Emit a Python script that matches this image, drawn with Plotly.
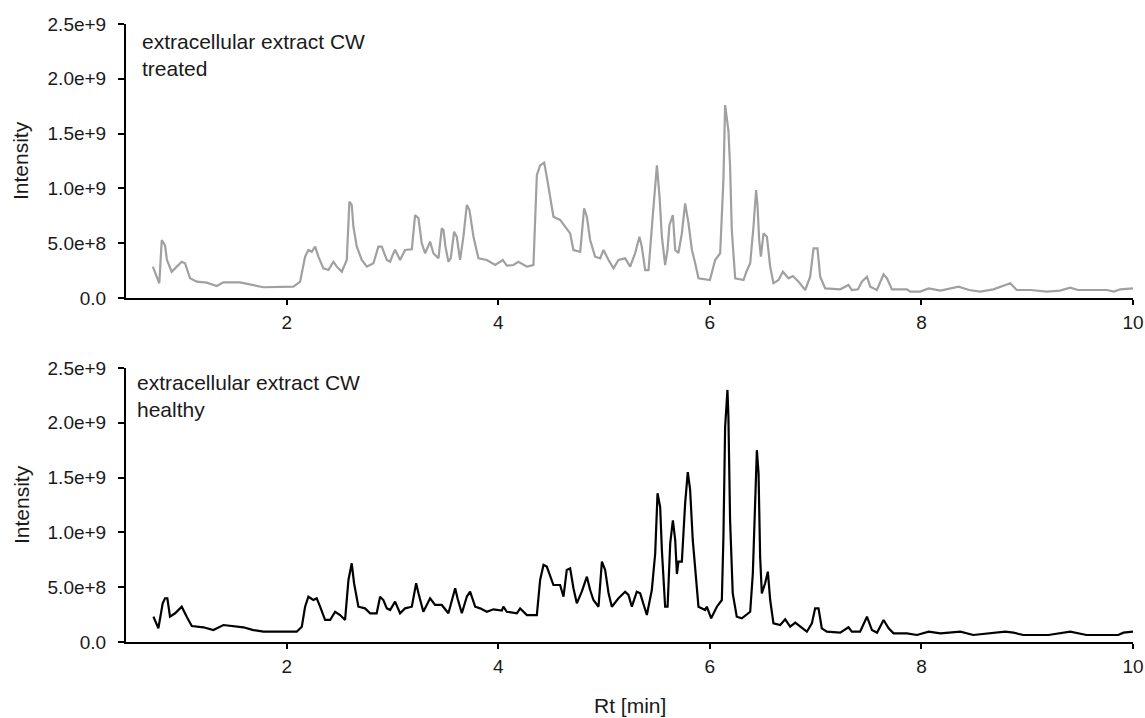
import numpy as np
import plotly.graph_objects as go

# Retention times [min] and intensities (units of 1e8 counts) for each chromatogram
rt_treated = [
    0.734, 0.795, 0.818, 0.849, 0.867, 0.912, 0.960, 1.007, 1.038, 1.086, 1.149, 1.244,
    1.338, 1.401, 1.558, 1.684, 1.779, 2.063, 2.126, 2.173, 2.204, 2.236, 2.268, 2.299,
    2.346, 2.394, 2.441, 2.473, 2.520, 2.567, 2.583, 2.592, 2.614, 2.630, 2.662, 2.709,
    2.757, 2.819, 2.866, 2.898, 2.946, 2.977, 3.000, 3.024, 3.071, 3.118, 3.182, 3.213,
    3.245, 3.276, 3.308, 3.355, 3.386, 3.434, 3.465, 3.481, 3.500, 3.528, 3.550, 3.582,
    3.607, 3.638, 3.670, 3.702, 3.727, 3.765, 3.812, 3.891, 3.970, 4.042, 4.080, 4.143,
    4.190, 4.270, 4.332, 4.364, 4.395, 4.433, 4.458, 4.490, 4.521, 4.584, 4.632, 4.679,
    4.710, 4.774, 4.811, 4.837, 4.868, 4.915, 4.963, 4.994, 5.042, 5.089, 5.136, 5.199,
    5.246, 5.293, 5.334, 5.356, 5.388, 5.420, 5.467, 5.499, 5.524, 5.546, 5.577, 5.599,
    5.618, 5.650, 5.672, 5.703, 5.735, 5.766, 5.798, 5.830, 5.861, 5.892, 6.000, 6.050,
    6.097, 6.128, 6.144, 6.175, 6.191, 6.207, 6.239, 6.318, 6.345, 6.381, 6.412, 6.437,
    6.450, 6.466, 6.482, 6.507, 6.539, 6.570, 6.601, 6.649, 6.690, 6.744, 6.785, 6.838,
    6.901, 6.948, 6.980, 7.017, 7.043, 7.090, 7.232, 7.310, 7.342, 7.400, 7.437, 7.485,
    7.516, 7.579, 7.642, 7.674, 7.721, 7.863, 7.894, 7.989, 8.068, 8.180, 8.351, 8.450,
    8.557, 8.680, 8.840, 8.900, 9.030, 9.187, 9.310, 9.407, 9.480, 9.754, 9.820, 9.880,
    10.0,
]
int_treated = [
    2.86, 1.34, 5.29, 4.80, 3.47, 2.40, 2.86, 3.31, 3.17, 1.80, 1.49, 1.40,
    1.09, 1.43, 1.43, 1.19, 0.98, 1.03, 1.49, 3.77, 4.38, 4.22, 4.68, 3.77,
    2.70, 2.55, 3.31, 2.86, 2.40, 3.47, 6.50, 8.79, 8.50, 6.50, 4.68, 3.47,
    2.86, 3.17, 4.68, 4.68, 3.47, 3.31, 3.90, 4.40, 3.47, 4.38, 4.44, 7.57,
    7.27, 4.99, 4.08, 5.14, 4.08, 3.62, 6.36, 6.20, 4.70, 3.31, 3.62, 6.05,
    5.59, 3.47, 5.59, 8.49, 8.03, 5.59, 3.62, 3.47, 3.01, 3.47, 2.95, 3.01,
    3.31, 2.86, 3.01, 11.20, 12.10, 12.35, 11.07, 9.24, 7.42, 7.12, 6.50, 5.90,
    4.38, 4.22, 8.18, 7.42, 5.29, 3.77, 3.62, 4.38, 3.47, 2.71, 3.47, 3.62,
    2.86, 4.08, 5.59, 4.70, 2.55, 2.55, 8.33, 12.10, 9.24, 5.59, 3.01, 4.38,
    6.66, 7.57, 4.38, 4.10, 5.90, 8.64, 6.81, 4.38, 3.17, 1.80, 1.64, 3.47,
    4.08, 10.80, 17.60, 15.30, 12.00, 6.20, 1.80, 1.64, 2.40, 3.17, 6.50, 9.85,
    8.50, 5.29, 3.77, 5.90, 5.59, 2.86, 1.34, 1.64, 2.40, 1.80, 2.00, 1.49,
    0.73, 1.94, 4.53, 4.53, 1.94, 0.88, 0.79, 1.19, 0.73, 0.79, 1.49, 1.94,
    1.03, 0.73, 2.16, 1.80, 0.79, 0.79, 0.58, 0.58, 0.88, 0.67, 1.03, 0.73,
    0.58, 0.79, 1.34, 0.73, 0.73, 0.58, 0.67, 0.94, 0.73, 0.73, 0.58, 0.79,
    0.88,
]

rt_healthy = [
    0.739, 0.786, 0.827, 0.849, 0.871, 0.896, 0.944, 1.007, 1.054, 1.102, 1.212, 1.306,
    1.401, 1.495, 1.590, 1.684, 1.779, 2.094, 2.142, 2.173, 2.204, 2.252, 2.283, 2.315,
    2.362, 2.410, 2.457, 2.504, 2.551, 2.583, 2.614, 2.636, 2.677, 2.740, 2.788, 2.850,
    2.882, 2.913, 2.946, 2.977, 3.024, 3.071, 3.118, 3.182, 3.223, 3.245, 3.291, 3.355,
    3.402, 3.465, 3.528, 3.592, 3.614, 3.655, 3.702, 3.733, 3.781, 3.828, 3.891, 3.954,
    4.033, 4.048, 4.080, 4.175, 4.206, 4.270, 4.364, 4.395, 4.427, 4.458, 4.521, 4.584,
    4.616, 4.647, 4.679, 4.710, 4.742, 4.789, 4.837, 4.868, 4.899, 4.947, 4.979, 5.010,
    5.042, 5.073, 5.136, 5.199, 5.230, 5.262, 5.309, 5.341, 5.372, 5.404, 5.451, 5.483,
    5.505, 5.530, 5.546, 5.577, 5.600, 5.625, 5.650, 5.672, 5.688, 5.703, 5.735, 5.766,
    5.791, 5.813, 5.838, 5.869, 5.892, 5.955, 5.971, 6.012, 6.066, 6.113, 6.128, 6.144,
    6.166, 6.175, 6.191, 6.216, 6.254, 6.302, 6.381, 6.406, 6.428, 6.444, 6.460, 6.475,
    6.491, 6.522, 6.548, 6.570, 6.601, 6.665, 6.712, 6.759, 6.807, 6.854, 6.917, 6.964,
    6.995, 7.027, 7.058, 7.106, 7.232, 7.310, 7.342, 7.420, 7.485, 7.532, 7.580, 7.642,
    7.690, 7.737, 7.863, 7.958, 8.068, 8.180, 8.368, 8.490, 8.650, 8.792, 8.870, 8.964,
    9.200, 9.407, 9.560, 9.860, 9.910, 10.0,
]
int_healthy = [
    2.31, 1.25, 3.53, 3.99, 3.99, 2.31, 2.62, 3.22, 2.31, 1.46, 1.34, 1.09,
    1.55, 1.46, 1.34, 1.09, 0.94, 0.94, 1.40, 3.22, 4.13, 3.83, 3.99, 3.22,
    2.01, 2.01, 2.76, 2.46, 2.01, 5.66, 7.18, 5.36, 3.22, 3.07, 2.62, 2.62,
    4.13, 3.83, 3.07, 2.92, 3.68, 2.62, 3.07, 3.22, 5.36, 4.45, 2.76, 3.99,
    3.38, 3.38, 2.62, 4.90, 3.99, 2.62, 4.13, 4.59, 3.22, 3.07, 2.76, 2.98,
    2.86, 3.22, 2.76, 2.62, 3.07, 2.46, 2.46, 5.66, 7.03, 6.88, 5.20, 5.20,
    4.13, 6.57, 6.72, 4.90, 3.53, 4.59, 5.96, 4.74, 3.83, 3.22, 7.33, 6.57,
    4.44, 3.22, 3.99, 4.59, 4.30, 3.22, 4.59, 4.44, 3.53, 2.46, 4.74, 8.09,
    13.57, 12.30, 8.40, 3.22, 3.22, 9.00, 11.10, 9.31, 6.20, 7.33, 7.33, 12.65,
    15.50, 13.90, 9.31, 5.66, 3.22, 2.92, 3.22, 2.16, 3.22, 3.83, 9.61, 19.60,
    23.00, 20.60, 11.10, 4.44, 2.31, 2.16, 2.76, 6.27, 13.87, 17.50, 15.40, 7.78,
    4.44, 5.36, 6.42, 3.83, 1.70, 1.55, 2.07, 1.40, 1.76, 1.40, 0.94, 1.70,
    3.07, 3.07, 1.25, 0.94, 0.85, 1.34, 0.94, 0.94, 2.31, 1.09, 0.85, 2.01,
    1.25, 0.79, 0.79, 0.64, 0.94, 0.79, 0.94, 0.64, 0.79, 0.94, 0.85, 0.64,
    0.64, 0.94, 0.64, 0.64, 0.85, 0.94,
]

x_ticks = [2, 4, 6, 8, 10]
y_tickvals = [0, 5.0e8, 1.0e9, 1.5e9, 2.0e9, 2.5e9]
y_ticktext = ["0.0", "5.0e+8", "1.0e+9", "1.5e+9", "2.0e+9", "2.5e+9"]

panel_labels = ["extracellular extract CW<br>treated", "extracellular extract CW<br>healthy"]

FONT = "Liberation Sans, Arial, sans-serif"
TEXT_COLOR = "#1a1a1a"
AX_FONT = dict(family=FONT, size=19, color=TEXT_COLOR)
LABEL_FONT = dict(family=FONT, size=21, color=TEXT_COLOR)

fig = go.Figure()
fig.add_trace(go.Scatter(
    x=rt_treated, y=np.array(int_treated) * 1e8, mode="lines",
    line=dict(color="#a0a0a0", width=2.2), xaxis="x", yaxis="y", showlegend=False,
))
fig.add_trace(go.Scatter(
    x=rt_healthy, y=np.array(int_healthy) * 1e8, mode="lines",
    line=dict(color="#000000", width=2.2), xaxis="x2", yaxis="y2", showlegend=False,
))

x_common = dict(
    range=[0.48, 10], tickvals=x_ticks, ticks="outside", ticklen=5, tickwidth=2,
    tickcolor="black", showline=True, linewidth=2, linecolor="black",
    showgrid=False, zeroline=False, tickfont=AX_FONT, ticklabelstandoff=1,
    automargin=False,
)
y_common = dict(
    range=[0, 2.5e9], tickvals=y_tickvals, ticktext=y_ticktext, ticks="outside",
    ticklen=6, tickwidth=2, tickcolor="black", showline=True, linewidth=2,
    linecolor="black", showgrid=False, zeroline=False, tickfont=AX_FONT,
    ticklabelstandoff=8, automargin=False,
)

plot_h = 718 - 24 - 76
panel_frac = 274 / plot_h

fig.update_layout(
    width=1145, height=718,
    margin=dict(l=126, r=12, t=24, b=76, autoexpand=False),
    paper_bgcolor="white", plot_bgcolor="white",
    xaxis=dict(domain=[0, 1], anchor="y", **x_common),
    yaxis=dict(domain=[1 - panel_frac, 1], anchor="x", **y_common),
    xaxis2=dict(domain=[0, 1], anchor="y2", **x_common),
    yaxis2=dict(domain=[0, panel_frac], anchor="x2", **y_common),
)

# Panel captions
fig.add_annotation(text=panel_labels[0], xref="x domain", yref="y domain",
                   x=0.014, y=0.985, xanchor="left", yanchor="top", align="left",
                   showarrow=False, font=LABEL_FONT)
fig.add_annotation(text=panel_labels[1], xref="x2 domain", yref="y2 domain",
                   x=0.009, y=0.995, xanchor="left", yanchor="top", align="left",
                   showarrow=False, font=LABEL_FONT)

# Axis titles
for ymid in [1 - panel_frac / 2, panel_frac / 2]:
    fig.add_annotation(text="Intensity", xref="paper", yref="paper",
                       x=(21 - 126) / 1007, y=ymid, textangle=-90,
                       xanchor="center", yanchor="middle", showarrow=False,
                       font=LABEL_FONT)
fig.add_annotation(text="Rt [min]", xref="paper", yref="paper",
                   x=0.5, y=(642 - 705) / plot_h, xanchor="center", yanchor="middle",
                   showarrow=False, font=LABEL_FONT)

fig.write_html("out.html")
